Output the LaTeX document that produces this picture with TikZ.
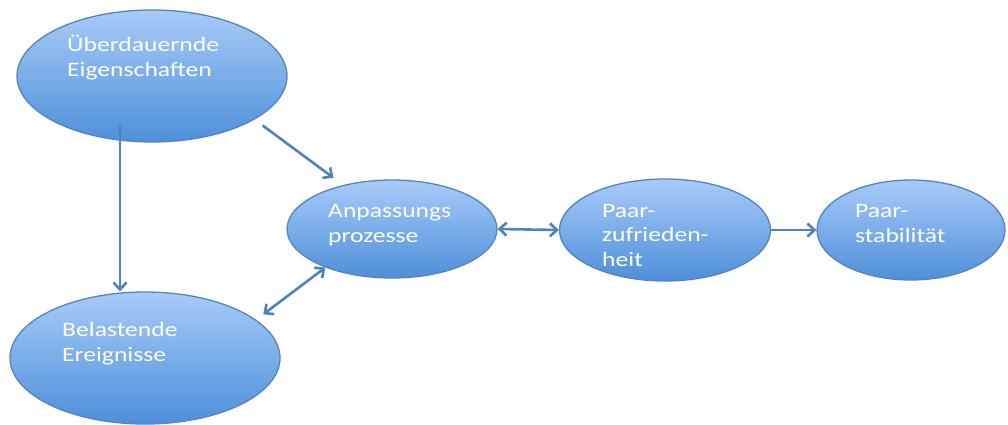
\documentclass[tikz,border=0pt]{standalone}
\usepackage{fontspec}
\setmainfont{Carlito}[FakeStretch=1.25]
\usetikzlibrary{shapes.geometric}
\usetikzlibrary{arrows.meta}
\definecolor{elltop}{RGB}{168,203,248}
\definecolor{ellbottom}{RGB}{78,143,218}
\definecolor{ellborder}{RGB}{86,132,190}
\definecolor{arrowblue}{RGB}{80,130,192}

\begin{document}
\begin{tikzpicture}[x=1pt,y=-1pt,
            ell node/.style={ellipse,draw=ellborder,line width=1.3pt,top color=elltop,bottom color=ellbottom,inner sep=0pt},
            text node/.style={anchor=base west,align=left,text=white,inner sep=0pt,font=\fontsize{20.5}{24.5}\selectfont},
            link/.style={draw=arrowblue,line width=2.6pt,-{Straight Barb[length=7pt,width=13pt]}},
            both link/.style={link,{Straight Barb[length=7pt,width=13pt]}-{Straight Barb[length=7pt,width=13pt]}},
            ]
            \useasboundingbox (0,0) rectangle (1008,424);

            \node[ell node, minimum width=270, minimum height=132] (eigen) at (152,76) {};
            \node[ell node, minimum width=210, minimum height=98] (anpass) at (392,229) {};
            \node[ell node, minimum width=211, minimum height=102] (zufried) at (665,230) {};
            \node[ell node, minimum width=188, minimum height=100] (stabil) at (911,230) {};
            \node[ell node, minimum width=270, minimum height=132] (belast) at (145,358) {};

            % base anchor sits on the last line
            \node[text node] (eigentext) at (67,76) {Überdauernde\\Eigenschaften};
            \node[text node] (anpasstext) at (328,242) {Anpassungs\\prozesse};
            \node[text node] (zufriedtext) at (602,266) {Paar-\\zufrieden-\\heit};
            \node[text node] (stabiltext) at (855,242) {Paar-\\stabilität};
            \node[text node] (belasttext) at (62,361) {Belastende\\Ereignisse};

            \draw[link] ([xshift=-32,yshift=-49]eigen.center) -- ([xshift=-25]belast.north);
            \draw[link, shorten <=10pt, shorten >=12pt] (eigen.-23) -- (anpass.138);
            \draw[both link, shorten <=9pt] (belast.19) -- (anpass.210);
            \draw[both link] (anpass.east) -- (zufried.west);
            \draw[link] (zufried.east) -- (stabil.west);
        \end{tikzpicture}
\end{document}
